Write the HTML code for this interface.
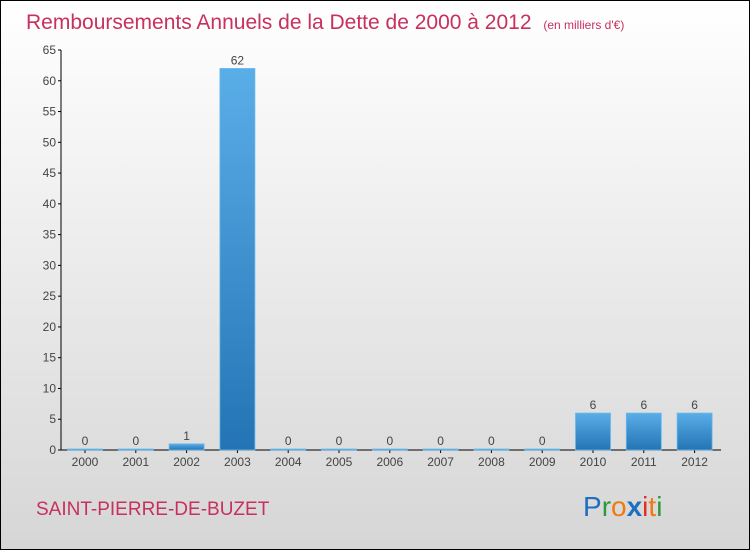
<!DOCTYPE html>
<html><head><meta charset="utf-8">
<style>
body{margin:0;width:750px;height:550px;overflow:hidden;font-family:"Liberation Sans",sans-serif}
#wrap{position:relative;width:748px;height:548px;border:1px solid #000;background:linear-gradient(#ffffff,#d6d6d6)}
</style></head><body>
<div id="wrap">
<svg width="748" height="548" id="chart">
<defs><linearGradient id="bg" x1="0" y1="0" x2="0" y2="1"><stop offset="0" stop-color="#5aaee8"/><stop offset="1" stop-color="#2374b4"/></linearGradient></defs>
<text x="25" y="28" font-size="21" fill="#c8305e">Remboursements Annuels de la Dette de 2000 à 2012 <tspan font-size="12" dx="6">(en milliers d'€)</tspan></text>
<text x="35" y="514" font-size="19" fill="#c8305e">SAINT-PIERRE-DE-BUZET</text>
<g font-size="28" font-family="'Liberation Sans',sans-serif">
<text x="582" y="515"><tspan fill="#1e6fc0">P</tspan><tspan fill="#2a9a3a">r</tspan><tspan fill="#f07a10">o</tspan><tspan fill="#1e6fc0" font-weight="bold">x</tspan><tspan fill="#e03020">i</tspan><tspan fill="#f07a10">t</tspan><tspan fill="#2a9a3a">i</tspan></text></g>
<g id="axes"></g><g id="bars"></g>
</svg></div>
<script>
const categories=["2000","2001","2002","2003","2004","2005","2006","2007","2008","2009","2010","2011","2012"];
const values=[0,0,1,62,0,0,0,0,0,0,6,6,6];
const valueLabels=["0","0","1","62","0","0","0","0","0","0","6","6","6"];
const yTicks=[0,5,10,15,20,25,30,35,40,45,50,55,60,65];
const NS="http://www.w3.org/2000/svg";
const y0=449,yTop=49,yMax=65,x0=84,step=50.8,bw=35;
const yS=v=>y0-(v/yMax)*(y0-yTop);
const xS=i=>x0+i*step;
function mk(t,a,p){const e=document.createElementNS(NS,t);for(const k in a)e.setAttribute(k,a[k]);p.appendChild(e);return e;}
const ax=document.getElementById('axes'),bg=document.getElementById('bars');
const yl=mk('line',{x1:60,y1:yTop,x2:60,y2:y0,stroke:'#000'},ax);


const xl=mk('line',{x1:60,y1:y0,x2:720,y2:y0,stroke:'#000'},ax);


yTicks.forEach(t=>{
 mk('line',{x1:57,y1:yS(t),x2:60,y2:yS(t),stroke:'#000'},ax);
 const tx=mk('text',{x:55,y:yS(t)+4,'font-size':12,fill:'#444','text-anchor':'end'},ax);tx.textContent=t;
 
 
});
categories.forEach((c,i)=>{
 const cx=xS(i);
 mk('line',{x1:cx,y1:y0,x2:cx,y2:y0+3,stroke:'#000'},ax);
 const tx=mk('text',{x:cx,y:y0+16,'font-size':12,fill:'#444','text-anchor':'middle'},ax);tx.textContent=c;
 
 
 const h=Math.max(1,y0-yS(values[i]));
 const r=mk('rect',{x:cx-bw/2,y:y0-h,width:bw,height:h,fill:'url(#bg)',stroke:'#6ab8ee','stroke-width':0.8},bg);
 
 
 const vl=mk('text',{x:cx,y:y0-h-4,'font-size':12,fill:'#444','text-anchor':'middle'},bg);vl.textContent=valueLabels[i];
 
 
});
</script>
</body></html>
